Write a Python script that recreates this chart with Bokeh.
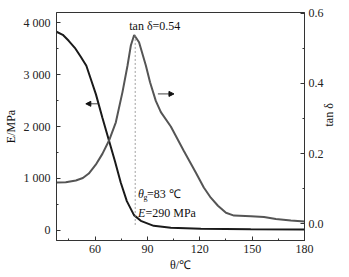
import math
from bokeh.plotting import figure
from bokeh.models import (Range1d, LinearAxis, SingleIntervalTicker, NumeralTickFormatter,
                          Label, Arrow, NormalHead)
from bokeh.embed import file_html
from bokeh.resources import INLINE

# ---- data ----
temp_e = [37.9, 41.5, 44.9, 48.4, 51.8, 55.0, 57.5, 60.5, 64.2, 68.0, 71.4, 74.7, 78.2, 82.3,
          86.2, 93.6, 103.4, 120.6, 149.2, 180.0]
modulus = [3828, 3770, 3654, 3519, 3345, 3172, 2921, 2620, 2170, 1724, 1330, 919, 560, 290,
           180, 83, 44, 25, 15, 12]

temp_t = [37.9, 43.2, 49.0, 53.0, 56.4, 60.4, 64.2, 68.0, 71.9, 75.7, 78.6, 80.5, 82.4, 85.2, 89.1,
          91.5, 94.8, 97.7, 103.4, 110.8, 117.7, 122.3, 126.3, 130.4, 135.0, 139.6, 149.3, 156.8,
          163.6, 172.2, 180.0]
tan_delta = [0.117, 0.118, 0.123, 0.130, 0.143, 0.168, 0.199, 0.237, 0.289, 0.375, 0.451, 0.508, 0.538,
             0.517, 0.451, 0.403, 0.350, 0.318, 0.277, 0.208, 0.146, 0.103, 0.074, 0.051, 0.031, 0.023,
             0.021, 0.019, 0.013, 0.009, 0.006]

x_ticks = [60, 90, 120, 150, 180]
e_ticks = [0, 1000, 2000, 3000, 4000]
e_tick_labels = ["0", "1 000", "2 000", "3 000", "4 000"]
tan_ticks = [0.0, 0.2, 0.4, 0.6]

tg = 83
tan_peak = 0.54
e_at_tg = 290

FONT = "Liberation Serif"
AX = "#333333"

p = figure(width=349, height=277, output_backend="svg", toolbar_location=None,
           x_range=Range1d(37.9, 180), y_range=Range1d(-200, 4200),
           min_border_left=56, min_border_right=45, min_border_top=12, min_border_bottom=37)
p.extra_y_ranges = {"tan": Range1d(-0.048, 0.602)}
p.xgrid.visible = False
p.ygrid.visible = False
p.outline_line_color = AX
p.outline_line_width = 1
p.background_fill_color = "white"
p.border_fill_color = "white"

def style(ax, label):
    ax.axis_line_color = AX
    ax.axis_line_width = 1
    ax.major_tick_line_color = AX
    ax.minor_tick_line_color = AX
    ax.major_tick_in = 4
    ax.major_tick_out = 0
    ax.minor_tick_in = 2
    ax.minor_tick_out = 0
    ax.major_label_text_font = FONT
    ax.major_label_text_font_size = "12px"
    ax.major_label_text_color = "#222222"
    ax.axis_label = label
    ax.axis_label_text_font = FONT
    ax.axis_label_text_font_size = "12px"
    ax.axis_label_text_font_style = "normal"
    ax.axis_label_text_color = "#111111"

xa = p.xaxis[0]
xa.ticker = SingleIntervalTicker(interval=30, num_minor_ticks=2)
xa.major_label_standoff = 4
style(xa, "\u03b8/\u2103")
xa.axis_label_standoff = 2

ya = p.yaxis[0]
ya.ticker = SingleIntervalTicker(interval=1000, num_minor_ticks=2)
ya.major_label_overrides = {t: s for t, s in zip(e_ticks, e_tick_labels)}
ya.major_label_standoff = 6
style(ya, "E/MPa")
ya.axis_label_standoff = 3

ra = LinearAxis(y_range_name="tan", ticker=SingleIntervalTicker(interval=0.2, num_minor_ticks=2),
                formatter=NumeralTickFormatter(format="0.0"))
ra.major_label_standoff = 4
style(ra, "tan \u03b4")
ra.axis_label_standoff = 2
ra.axis_label_orientation = math.pi / 2
p.add_layout(ra, "right")

# curves
p.line(temp_e, modulus, line_color="#1a1a1a", line_width=2)
p.line(temp_t, tan_delta, line_color="#555555", line_width=2, y_range_name="tan")

# dotted guide at Tg
p.segment(x0=[tg], y0=[tan_delta[12]], x1=[tg], y1=[-0.006], y_range_name="tan",
          line_color="#888888", line_width=0.8, line_dash="2 2")

# arrows
p.add_layout(Arrow(x_start=61.6, y_start=2438, x_end=54.7, y_end=2438,
                   line_color="#111111", line_width=0.8,
                   end=NormalHead(size=5, fill_color="#111111", line_color="#111111")))
p.add_layout(Arrow(x_start=96.0, y_start=2629, x_end=105.2, y_end=2629,
                   line_color="#111111", line_width=0.8,
                   end=NormalHead(size=5, fill_color="#111111", line_color="#111111")))

def lab(x, y, text, size="12px", style="normal", xo=0, yo=0):
    p.add_layout(Label(x=x, y=y, text=text, text_font=FONT, text_font_size=size,
                       text_font_style=style, text_color="#111111",
                       text_align="left", text_baseline="middle", x_offset=xo, y_offset=yo))

# annotations
lab(79.6, 3944, "tan \u03b4=0.54")
lab(84.6, 707, "\u03b8", style="italic")
lab(84.6, 707, "g", size="8px", xo=5.5, yo=-4)
lab(84.6, 707, "=83 \u2103", xo=9)
lab(84.6, 328, "E", style="italic")
lab(84.6, 328, "=290 MPa", xo=7.5)

open("out.html", "w").write(file_html(p, INLINE))
